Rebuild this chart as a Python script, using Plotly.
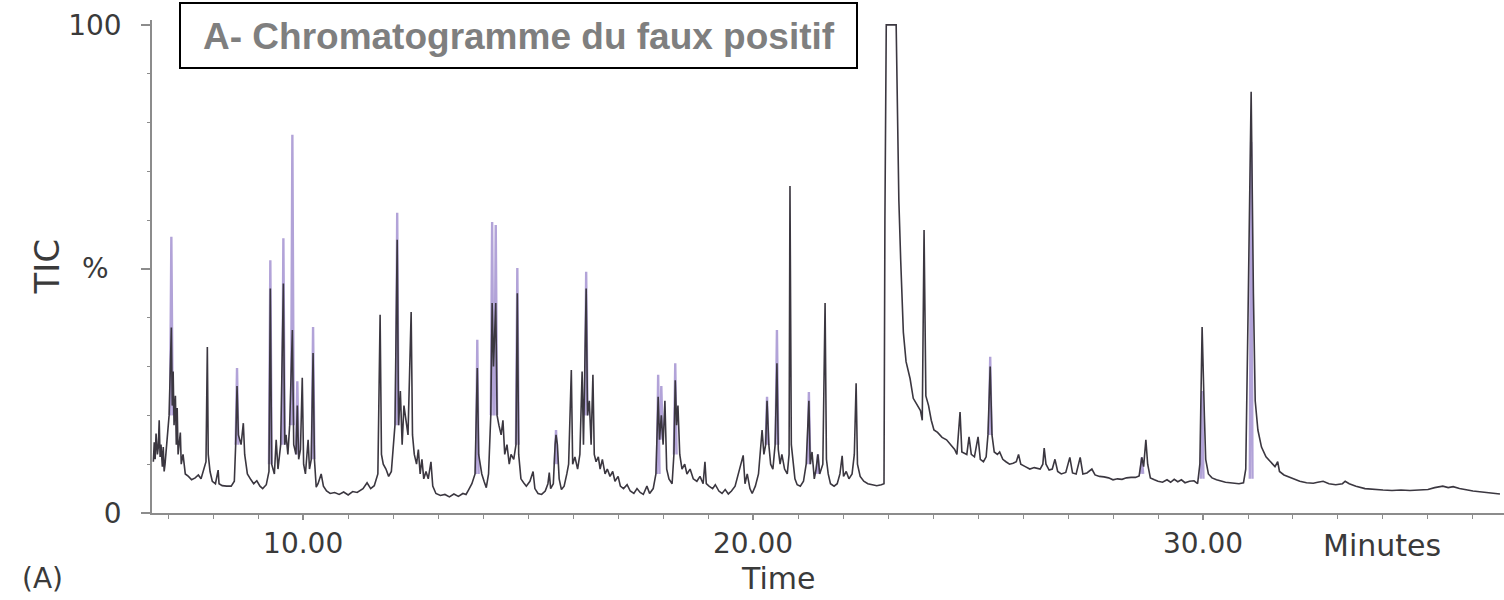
import plotly.graph_objects as go

# ---------------- data ----------------
# dark TIC trace: (retention time in minutes, TIC %)
dark_points = [
    (6.67, 10.5), (6.69, 14.5), (6.71, 11.0), (6.73, 16.3), (6.76, 12.0), (6.78, 13.5),
    (6.80, 19.0), (6.82, 11.5), (6.84, 14.0), (6.87, 9.5), (6.89, 13.5), (6.91, 8.5),
    (6.93, 10.0), (6.96, 14.0), (7.02, 20.0), (7.07, 38.0), (7.09, 22.0), (7.11, 29.0),
    (7.13, 18.0), (7.16, 24.0), (7.18, 14.0), (7.20, 21.5), (7.22, 12.0), (7.27, 16.5),
    (7.29, 10.0), (7.33, 12.0), (7.38, 8.0), (7.45, 7.5), (7.52, 6.8), (7.60, 7.2),
    (7.67, 7.8), (7.73, 7.0), (7.80, 9.0), (7.84, 10.5), (7.87, 34.0), (7.89, 12.0),
    (7.93, 8.5), (7.98, 6.5), (8.05, 6.0), (8.11, 8.8), (8.13, 6.0), (8.20, 5.6),
    (8.30, 5.5), (8.40, 5.5), (8.47, 6.5), (8.50, 14.0), (8.53, 26.0), (8.56, 16.0),
    (8.62, 14.0), (8.67, 18.4), (8.70, 12.0), (8.76, 8.0), (8.84, 6.8), (8.90, 6.0),
    (8.97, 6.6), (9.04, 5.5), (9.10, 5.0), (9.18, 5.8), (9.24, 8.5), (9.27, 46.0),
    (9.30, 10.0), (9.36, 8.0), (9.40, 15.0), (9.44, 9.0), (9.50, 14.0), (9.56, 47.0),
    (9.59, 14.0), (9.62, 16.0), (9.66, 12.0), (9.70, 18.0), (9.76, 37.5), (9.79, 14.0),
    (9.84, 12.0), (9.87, 22.0), (9.90, 11.0), (9.94, 13.0), (9.98, 27.7), (10.01, 10.0),
    (10.05, 8.0), (10.11, 15.0), (10.14, 9.0), (10.18, 11.0), (10.22, 32.8), (10.25, 11.0),
    (10.29, 5.3), (10.33, 6.0), (10.40, 8.0), (10.45, 5.5), (10.52, 4.5), (10.60, 4.0),
    (10.70, 4.2), (10.80, 3.8), (10.90, 4.3), (11.00, 3.7), (11.10, 4.4), (11.20, 4.2),
    (11.33, 5.0), (11.42, 6.2), (11.50, 5.0), (11.58, 5.6), (11.66, 8.0), (11.71, 40.6),
    (11.74, 12.0), (11.78, 10.0), (11.84, 9.0), (11.90, 7.5), (11.96, 8.5), (12.04, 18.0),
    (12.09, 56.0), (12.12, 18.0), (12.16, 25.0), (12.20, 14.0), (12.24, 22.0), (12.29, 19.0),
    (12.33, 16.0), (12.40, 41.2), (12.43, 16.0), (12.47, 12.0), (12.52, 10.0), (12.56, 13.0),
    (12.60, 8.0), (12.64, 11.0), (12.68, 7.0), (12.73, 8.5), (12.78, 7.0), (12.84, 10.5),
    (12.88, 5.5), (12.95, 4.0), (13.05, 3.6), (13.15, 3.8), (13.25, 3.3), (13.35, 3.9),
    (13.45, 3.4), (13.55, 4.0), (13.62, 3.8), (13.68, 4.8), (13.75, 6.0), (13.82, 8.0),
    (13.87, 29.7), (13.90, 12.0), (13.93, 10.0), (13.97, 8.0), (14.02, 6.5), (14.07, 5.2),
    (14.12, 8.0), (14.17, 20.0), (14.20, 43.0), (14.23, 30.0), (14.28, 43.0), (14.31, 20.0),
    (14.35, 18.0), (14.40, 16.0), (14.44, 19.0), (14.48, 12.0), (14.53, 14.0), (14.58, 10.0),
    (14.62, 12.0), (14.68, 11.0), (14.73, 14.0), (14.76, 45.0), (14.79, 12.0), (14.84, 7.0),
    (14.90, 6.2), (14.96, 5.5), (15.04, 6.5), (15.11, 8.5), (15.15, 5.0), (15.22, 4.0),
    (15.30, 3.8), (15.38, 4.5), (15.44, 6.0), (15.47, 8.3), (15.50, 5.0), (15.56, 6.0),
    (15.60, 14.0), (15.62, 16.0), (15.65, 14.0), (15.69, 7.0), (15.74, 4.8), (15.80, 5.5),
    (15.86, 8.0), (15.90, 10.0), (15.96, 29.3), (15.99, 10.0), (16.04, 11.5), (16.10, 9.0),
    (16.15, 12.0), (16.20, 29.0), (16.23, 14.0), (16.29, 46.0), (16.32, 20.0), (16.36, 23.0),
    (16.40, 14.0), (16.44, 28.3), (16.47, 12.0), (16.51, 10.5), (16.56, 11.5), (16.60, 9.0),
    (16.65, 11.0), (16.71, 8.0), (16.76, 9.0), (16.82, 7.5), (16.88, 8.5), (16.93, 6.5),
    (17.00, 7.5), (17.05, 5.5), (17.12, 5.0), (17.20, 5.8), (17.27, 4.5), (17.35, 4.0),
    (17.42, 5.0), (17.49, 4.2), (17.56, 3.8), (17.64, 5.5), (17.70, 4.0), (17.78, 5.0),
    (17.84, 8.0), (17.89, 23.8), (17.92, 15.0), (17.96, 20.0), (18.00, 14.0), (18.04, 23.0),
    (18.08, 9.0), (18.13, 7.0), (18.20, 6.0), (18.24, 12.0), (18.27, 27.2), (18.30, 18.0),
    (18.33, 22.0), (18.37, 12.0), (18.42, 9.0), (18.48, 10.0), (18.53, 8.0), (18.60, 9.0),
    (18.67, 7.0), (18.75, 6.5), (18.82, 7.5), (18.89, 6.0), (18.93, 10.5), (18.96, 6.0),
    (19.02, 5.5), (19.10, 5.0), (19.16, 5.8), (19.24, 4.5), (19.31, 4.0), (19.38, 4.8),
    (19.45, 3.9), (19.52, 4.5), (19.60, 5.5), (19.66, 7.5), (19.71, 9.0), (19.78, 11.8),
    (19.82, 6.0), (19.87, 8.0), (19.93, 5.0), (19.98, 4.0), (20.05, 5.5), (20.12, 8.0),
    (20.20, 17.0), (20.24, 12.0), (20.28, 14.0), (20.31, 23.0), (20.35, 14.0), (20.39, 10.0),
    (20.44, 9.0), (20.49, 14.0), (20.53, 30.7), (20.56, 13.0), (20.60, 10.0), (20.64, 12.0),
    (20.70, 9.0), (20.76, 8.0), (20.80, 12.0), (20.82, 67.0), (20.85, 14.0), (20.89, 10.0),
    (20.93, 7.0), (20.98, 5.8), (21.05, 5.5), (21.12, 6.5), (21.18, 10.0), (21.24, 23.0),
    (21.27, 10.0), (21.31, 12.5), (21.36, 7.0), (21.40, 9.0), (21.44, 12.0), (21.48, 8.0),
    (21.55, 10.0), (21.60, 43.0), (21.63, 11.0), (21.67, 8.0), (21.72, 6.0), (21.80, 5.5),
    (21.87, 6.0), (21.93, 8.0), (21.98, 11.7), (22.01, 7.5), (22.07, 8.5), (22.13, 7.0),
    (22.20, 8.0), (22.25, 12.0), (22.29, 26.6), (22.32, 10.0), (22.38, 7.5), (22.46, 6.5),
    (22.55, 6.0), (22.65, 5.8), (22.75, 5.6), (22.85, 5.8), (22.91, 6.0), (22.93, 60.0),
    (22.96, 100.0), (23.18, 100.0), (23.20, 85.0), (23.24, 64.0), (23.28, 52.0), (23.31, 43.6),
    (23.34, 37.0), (23.40, 31.0), (23.49, 27.5), (23.56, 23.5), (23.65, 22.0), (23.72, 21.0),
    (23.76, 19.0), (23.80, 58.0), (23.84, 24.0), (23.90, 22.0), (23.96, 19.0), (24.02, 17.0),
    (24.10, 16.5), (24.20, 15.5), (24.30, 15.0), (24.40, 14.0), (24.48, 13.0), (24.53, 12.0),
    (24.60, 20.7), (24.64, 12.5), (24.70, 12.3), (24.75, 12.0), (24.80, 15.6), (24.85, 12.0),
    (24.92, 11.5), (25.00, 15.6), (25.05, 11.0), (25.12, 10.5), (25.18, 11.5), (25.22, 16.0),
    (25.27, 30.0), (25.31, 16.0), (25.36, 12.5), (25.43, 12.0), (25.48, 12.5), (25.55, 11.0),
    (25.62, 10.5), (25.70, 10.0), (25.78, 10.2), (25.85, 10.5), (25.90, 12.0), (25.95, 10.0),
    (26.05, 9.5), (26.15, 9.0), (26.25, 9.3), (26.38, 9.0), (26.44, 10.0), (26.47, 13.3),
    (26.51, 10.0), (26.58, 8.8), (26.65, 9.0), (26.71, 11.0), (26.77, 8.5), (26.85, 8.0),
    (26.95, 8.3), (27.04, 11.4), (27.10, 8.2), (27.18, 8.0), (27.27, 11.4), (27.33, 8.0),
    (27.42, 8.2), (27.53, 9.0), (27.60, 7.8), (27.70, 7.5), (27.80, 7.4), (27.90, 7.2),
    (28.00, 6.8), (28.10, 7.0), (28.20, 6.9), (28.30, 7.2), (28.40, 7.3), (28.50, 7.3),
    (28.58, 7.6), (28.64, 11.4), (28.68, 9.5), (28.73, 15.0), (28.77, 10.0), (28.83, 7.2),
    (28.92, 6.8), (29.00, 6.5), (29.10, 6.3), (29.20, 6.8), (29.28, 6.3), (29.36, 6.9),
    (29.44, 6.4), (29.52, 6.8), (29.60, 6.2), (29.70, 6.5), (29.80, 6.6), (29.88, 6.0),
    (29.93, 10.0), (29.98, 38.1), (30.03, 20.0), (30.06, 11.0), (30.12, 8.0), (30.20, 7.2),
    (30.30, 6.8), (30.40, 6.5), (30.50, 6.3), (30.60, 6.2), (30.70, 6.1), (30.80, 6.0),
    (30.90, 6.2), (30.95, 9.0), (31.00, 40.0), (31.07, 86.3), (31.12, 45.0), (31.16, 23.0),
    (31.22, 17.0), (31.30, 13.5), (31.40, 11.5), (31.50, 10.5), (31.60, 9.5), (31.66, 10.5),
    (31.70, 8.5), (31.80, 7.8), (31.90, 7.4), (32.00, 7.0), (32.15, 6.5), (32.30, 6.2),
    (32.45, 6.1), (32.55, 6.3), (32.67, 6.5), (32.80, 6.0), (32.95, 5.8), (33.10, 6.0),
    (33.16, 6.5), (33.25, 6.0), (33.40, 5.5), (33.60, 5.0), (33.80, 4.8), (34.00, 4.7),
    (34.20, 4.6), (34.40, 4.7), (34.60, 4.6), (34.80, 4.7), (35.00, 4.8), (35.15, 5.2),
    (35.33, 5.5), (35.45, 5.2), (35.56, 5.4), (35.70, 5.0), (35.85, 4.7), (36.00, 4.5),
    (36.20, 4.3), (36.40, 4.1), (36.60, 3.9),
]

# lavender (second channel) peak tips: (time, foot %, top %)
lavender_peaks = [
    (7.07, 20.0, 56.6), (8.53, 14.0, 29.7), (9.27, 10.0, 51.8), (9.56, 14.0, 56.3),
    (9.76, 18.0, 77.5), (9.87, 12.0, 27.0), (10.22, 11.0, 38.1), (12.09, 18.0, 61.5),
    (13.87, 8.0, 35.5), (14.20, 20.0, 59.6), (14.28, 20.0, 59.0), (14.76, 14.0, 50.2),
    (15.62, 10.0, 17.0), (16.29, 20.0, 49.4), (17.89, 8.0, 28.3), (17.96, 15.0, 26.0),
    (18.27, 12.0, 30.7), (20.31, 14.0, 23.8), (20.53, 14.0, 37.5), (21.24, 10.0, 24.8),
    (21.44, 8.0, 12.0), (25.27, 16.0, 32.0), (28.64, 8.0, 11.4), (29.98, 7.0, 25.0),
    (31.07, 7.0, 76.0),
]

x_tick_vals = [10, 20, 30]
x_tick_text = ["10.00", "20.00", "30.00"]
y_tick_vals = [0, 50, 100]
y_tick_text = ["0", "", "100"]

title_text = "A- Chromatogramme du faux positif"

# ---------------- build traces ----------------
dark_t = [p[0] for p in dark_points]
dark_v = [p[1] for p in dark_points]

half_w = 0.03
lav_t, lav_v = [], []
for t, foot, top in lavender_peaks:
    lav_t += [t - half_w, t, t + half_w, None]
    lav_v += [foot, top, foot, None]

FONT = "DejaVu Sans"
TXT = "#3a3a3a"
AX = "#8c8c8c"

fig = go.Figure()
fig.add_trace(go.Scatter(x=lav_t, y=lav_v, mode="lines",
                         line=dict(color="#b2a3d8", width=2.4),
                         hoverinfo="skip", showlegend=False))
fig.add_trace(go.Scatter(x=dark_t, y=dark_v, mode="lines",
                         line=dict(color="#3b3740", width=1.6),
                         showlegend=False))

fig.update_layout(
    width=1504, height=600,
    margin=dict(l=152, r=0, t=20, b=87),
    paper_bgcolor="white", plot_bgcolor="white",
    font=dict(family=FONT, size=28, color=TXT),
    xaxis=dict(range=[6.64, 36.69], showline=True, linecolor=AX, linewidth=1.5,
               showgrid=False, zeroline=False,
               tickmode="array", tickvals=x_tick_vals, ticktext=x_tick_text,
               ticks="outside", ticklen=5, tickcolor=AX, tickwidth=1.5,
               tickfont=dict(family=FONT, size=28, color=TXT),
               minor=dict(tickmode="linear", tick0=0, dtick=1, ticks="outside",
                          ticklen=4, tickcolor=AX, tickwidth=1.2)),
    yaxis=dict(range=[0, 101], showline=True, linecolor=AX, linewidth=1.5,
               showgrid=False, zeroline=False,
               tickmode="array", tickvals=y_tick_vals, ticktext=y_tick_text,
               ticks="outside", ticklen=9, tickcolor=AX, tickwidth=1.5,
               ticklabelstandoff=14,
               tickfont=dict(family=FONT, size=28, color=TXT),
               minor=dict(tickmode="linear", tick0=0, dtick=10, ticks="outside",
                          ticklen=3, tickcolor=AX, tickwidth=1.2)),
)

# title box
fig.add_shape(type="rect", xref="paper", yref="paper",
              x0=(180 - 152) / 1352, x1=(857 - 152) / 1352,
              y0=(513 - 68) / 493, y1=(513 - 3) / 493,
              line=dict(color="black", width=2), fillcolor="white", layer="above")
fig.add_annotation(text="<b>" + title_text + "</b>", xref="paper", yref="paper",
                   x=(519 - 152) / 1352, y=(513 - 36) / 493, showarrow=False,
                   xanchor="center", yanchor="middle",
                   font=dict(family="Liberation Sans", size=37, color="#7f7f7f"))

# other labels
fig.add_annotation(text="%", xref="paper", yref="y", x=(95 - 152) / 1352, y=50,
                   showarrow=False, xanchor="center", yanchor="middle",
                   font=dict(family=FONT, size=28, color=TXT))
fig.add_annotation(text="TIC", xref="paper", yref="y", x=(46 - 152) / 1352, y=50.5,
                   textangle=-90, showarrow=False, xanchor="center", yanchor="middle",
                   font=dict(family=FONT, size=34, color=TXT))
fig.add_annotation(text="Minutes", xref="paper", yref="paper",
                   x=(1382 - 152) / 1352, y=(513 - 545) / 493,
                   showarrow=False, xanchor="center", yanchor="middle",
                   font=dict(family=FONT, size=30, color=TXT))
fig.add_annotation(text="Time", xref="paper", yref="paper",
                   x=(778 - 152) / 1352, y=(513 - 578) / 493,
                   showarrow=False, xanchor="center", yanchor="middle",
                   font=dict(family=FONT, size=30, color=TXT))
fig.add_annotation(text="(A)", xref="paper", yref="paper",
                   x=(42 - 152) / 1352, y=(513 - 578) / 493,
                   showarrow=False, xanchor="center", yanchor="middle",
                   font=dict(family=FONT, size=28, color=TXT))

fig.write_html("out.html")
